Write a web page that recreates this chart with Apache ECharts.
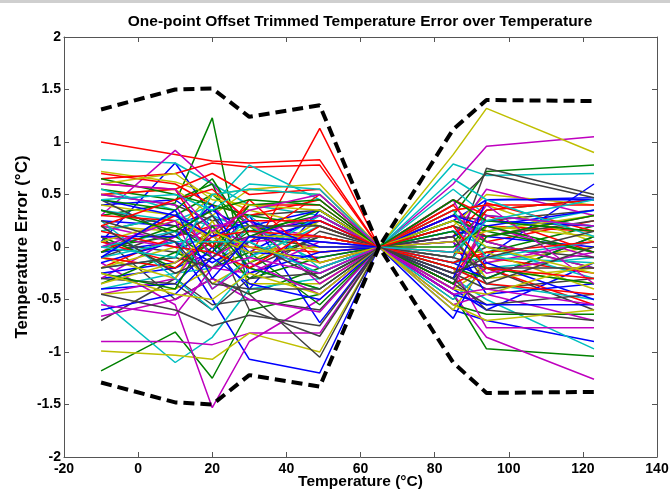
<!DOCTYPE html>
<html>
<head>
<meta charset="utf-8">
<script src="https://cdn.jsdelivr.net/npm/echarts@6/dist/echarts.min.js"></script>
<style>
  html, body { margin: 0; padding: 0; background: #fff; }
  #trimChart { width: 670px; height: 492px; }
</style>
</head>
<body>
<div id="trimChart"></div>
<script>
// temperatures where each part was measured (trim point at 65 °C)
const temps = [-10, 10, 20, 30, 49, 65, 85, 94, 123]

// error of each part, grouped by MATLAB colour order: b g r c m y k
const errB1 = [0.05, 0.8, 0.3, -0.05, 0.3, 0, 0.25, 0.45, 0.47]
const errG1 = [0.3, 0.42, 1.23, -0.45, -0.2, 0, 0.3, 0.72, 0.78]
const errR1 = [1.0, 0.88, 0.82, 0.8, 0.83, 0, -0.3, 0.2, 0.15]
const errC1 = [0.83, 0.8, 0.6, 0.4, 0.3, 0, 0.79, 0.68, 0.7]
const errM1 = [0.3, 0.92, 0.6, 0.2, 0.1, 0, 0.6, 0.96, 1.05]
const errY1 = [0.72, 0.62, 0.5, 0.55, 0.5, 0, 0.88, 1.32, 0.9]
const errK1 = [0.5, 0.4, 0.25, 0.3, 0.35, 0, 0.4, 0.7, 0.47]

const errB2 = [-0.05, 0.05, -0.5, -1.07, -1.2, 0, -0.6, -0.7, -0.9]
const errG2 = [-1.18, -0.81, -1.25, -0.6, -0.45, 0, -0.45, -0.97, -1.04]
const errR2 = [0.65, 0.7, 0.8, 0.76, 0.78, 0, 0.3, 0.1, 0.3]
const errC2 = [-0.51, -1.1, -0.86, -0.4, -0.3, 0, -0.3, -0.5, -0.97]
const errM2 = [-0.9, -0.9, -0.93, -0.82, -0.82, 0, -0.45, -0.86, -1.26]
const errY2 = [-0.99, -1.03, -1.07, -0.82, -1.0, 0, -0.4, -0.2, -0.35]
const errK2 = [0.1, -0.5, -0.3, -0.45, -1.05, 0, -0.5, -0.2, -0.6]

const errB3 = [0.4, 0.45, 0.2, 0.2, 0.35, 0, -0.68, -0.09, 0.6]
const errG3 = [0.55, 0.45, 0.6, -0.15, 0.1, 0, -0.55, -0.64, -0.64]
const errR3 = [-0.2, 0.1, 0.2, -0.1, 1.13, 0, 0.4, 0.05, 0.25]
const errC3 = [0.35, 0.25, 0.4, 0.78, 0.45, 0, -0.5, -0.2, -0.1]
const errM3 = [-0.15, -0.55, -1.53, -0.9, -0.5, 0, -0.2, -0.77, -0.77]
const errY3 = [0.5, 0.55, 0.3, 0.55, 0.6, 0, 0.2, 0.5, 0.4]
const errK3 = [-0.7, -0.3, -0.55, -0.5, -0.6, 0, -0.1, 0.75, 0.5]

const errB4 = [-0.3, -0.2, -0.05, 0.3, -0.72, 0, -0.4, -0.6, -0.15]
const errG4 = [0.15, 0.3, 0.5, 0.2, -0.3, 0, 0.2, 0.05, -0.2]
const errR4 = [0.7, 0.6, 0.4, 0.3, 0.45, 0, -0.35, -0.2, -0.55]
const errC4 = [-0.2, -0.1, 0.3, 0.15, 0.05, 0, 0.55, 0.3, 0.2]
const errM4 = [-0.66, -0.5, -0.3, -0.5, -0.62, 0, -0.55, -0.45, -0.7]
const errY4 = [0.2, 0.15, 0.5, 0.35, 0.2, 0, -0.6, -0.15, 0.0]
const errK4 = [0.05, -0.05, 0.15, -0.6, -0.85, 0, 0.3, 0.25, 0.35]

const errB5 = [0.25, 0.2, 0.35, 0.15, 0.25, 0, 0.15, 0.1, 0.0]
const errG5 = [0.0, 0.1, -0.1, 0.15, 0.3, 0, -0.3, -0.05, 0.2]
const errR5 = [0.5, 0.55, 0.0, 0.05, 0.5, 0, 0.45, 0.3, -0.05]
const errC5 = [-0.4, -0.25, -0.2, 0.2, -0.15, 0, -0.2, -0.35, -0.5]
const errM5 = [-0.3, 0.1, 0.4, 0.0, -0.2, 0, 0.1, 0.55, 0.3]
const errY5 = [0.4, 0.3, 0.05, 0.2, -0.05, 0, 0.1, -0.3, -0.2]
const errK5 = [-0.1, 0.15, 0.05, -0.3, 0.15, 0, -0.25, -0.4, -0.3]

const errB6 = [-0.4, -0.35, 0.0, -0.4, 0.35, 0, -0.15, -0.3, 0.1]
const errG6 = [0.65, 0.5, 0.4, 0.3, 0.2, 0, 0.05, 0.35, 0.45]
const errR6 = [0.05, -0.15, 0.05, 0.0, -0.05, 0, 0.1, 0.42, 0.15]
const errC6 = [0.15, 0.3, 0.2, -0.1, 0.3, 0, 0.25, 0.15, 0.35]
const errM6 = [-0.45, -0.3, 0.15, 0.05, 0.1, 0, -0.35, 0.2, -0.1]
const errY6 = [-0.2, 0.0, -0.35, -0.15, 0.25, 0, 0.35, 0.4, 0.05]
const errK6 = [0.35, 0.2, 0.0, 0.1, 0.0, 0, -0.15, 0.0, -0.1]

const errB7 = [-0.25, -0.15, 0.1, -0.05, -0.1, 0, 0.05, -0.45, -0.35]
const errG7 = [-0.35, -0.05, -0.2, -0.05, -0.55, 0, -0.2, -0.3, 0.1]
const errR7 = [-0.05, 0.3, 0.1, 0.4, 0.4, 0, -0.05, -0.1, -0.25]
const errC7 = [0.55, 0.35, -0.1, 0.3, -0.2, 0, 0.15, 0.0, -0.3]
const errM7 = [0.2, 0.05, -0.2, -0.25, 0.05, 0, 0.45, -0.15, 0.05]
const errY7 = [-0.1, -0.3, 0.25, -0.35, -0.35, 0, -0.25, 0.2, 0.1]
const errK7 = [0.45, 0.1, 0.3, -0.2, 0.1, 0, 0.2, 0.1, 0.25]

const errB8 = [-0.15, 0.05, -0.15, 0.05, 0.25, 0, 0.1, 0.25, 0.2]
const errG8 = [0.1, -0.2, 0.05, -0.3, -0.1, 0, 0.25, 0.15, -0.05]
const errR8 = [0.3, 0.25, 0.0, 0.45, -0.15, 0, -0.1, 0.35, 0.45]
const errC8 = [0.0, 0.15, -0.4, -0.1, 0.2, 0, -0.1, 0.3, 0.2]
const errM8 = [0.1, 0.0, 0.2, 0.25, -0.35, 0, 0.3, 0.05, -0.2]
const errY8 = [-0.45, -0.4, -0.2, 0.1, 0.1, 0, -0.05, -0.05, -0.4]
const errK8 = [-0.3, -0.35, -0.6, -0.3, -0.25, 0, -0.35, -0.55, -0.45]

const errB9 = [0.1, 0.1, 0.4, -0.25, -0.05, 0, -0.25, -0.15, -0.5]
const errG9 = [-0.05, 0.2, -0.05, 0.4, 0.45, 0, 0.15, -0.2, -0.35]
const errR9 = [-0.1, -0.2, 0.1, 0.15, 0.1, 0, -0.2, -0.35, -0.45]
const errC9 = [0.25, -0.3, -0.6, -0.2, -0.4, 0, -0.15, -0.1, 0.05]
const errM9 = [0.5, 0.4, -0.1, 0.1, 0.3, 0, 0.05, -0.25, -0.05]
const errY9 = [0.05, 0.25, 0.1, -0.05, 0.0, 0, 0.05, 0.15, 0.3]
const errK9 = [-0.2, -0.1, -0.2, 0.05, -0.3, 0, -0.1, -0.2, -0.2]

const errB10 = [0.45, 0.3, 0.1, 0.25, 0.0, 0, 0.3, 0.2, 0.35]
const errG10 = [-0.25, -0.4, 0.2, -0.2, -0.4, 0, 0.0, 0.2, -0.05]
const errR10 = [0.15, 0.0, -0.05, -0.2, 0.2, 0, -0.15, -0.05, 0.05]
const errC10 = [-0.1, 0.05, 0.05, 0.05, -0.25, 0, 0.35, -0.1, -0.15]
const errM10 = [0.0, 0.25, -0.4, -0.15, -0.45, 0, -0.05, 0.4, -0.35]
const errY10 = [-0.35, -0.15, 0.15, 0.0, -0.15, 0, -0.4, -0.45, -0.15]
const errK10 = [0.2, -0.25, -0.1, 0.2, 0.2, 0, 0.1, -0.35, 0.0]

const errB11 = [-0.6, -0.45, -0.1, -0.35, -0.5, 0, -0.3, 0.45, 0.45]
const errG11 = [0.45, 0.35, 0.65, 0.1, 0.35, 0, -0.35, 0.1, 0.3]
const errR11 = [0.6, 0.55, 0.7, 0.5, 0.55, 0, 0.35, 0.4, 0.4]
const errC11 = [0.0, -0.1, 0.5, 0.55, 0.5, 0, 0.65, 0.45, 0.1]
const errM11 = [-0.55, -0.65, -0.2, -0.1, -0.25, 0, -0.4, 0.3, 0.2]
const errY11 = [0.6, 0.7, 0.45, 0.4, 0.35, 0, 0.25, 0.0, -0.25]
const errK11 = [-0.45, -0.6, -0.75, -0.65, -0.75, 0, -0.3, -0.6, -0.7]

const errB12 = [-0.1, 0.35, -0.3, 0.1, 0.05, 0, -0.45, -0.55, -0.55]
const errG12 = [0.35, 0.15, 0.35, 0.45, 0.4, 0, 0.45, 0.25, 0.15]
const errR12 = [0.2, 0.45, 0.55, 0.25, 0.25, 0, 0.2, -0.2, -0.3]
const errC12 = [0.45, 0.5, 0.35, 0.6, 0.55, 0, -0.05, 0.25, 0.45]
const errM12 = [0.6, 0.55, 0.15, 0.35, 0.5, 0, -0.45, -0.4, -0.55]
const errY12 = [-0.25, -0.45, -0.5, -0.25, -0.45, 0, -0.55, -0.7, -0.6]
const errK12 = [0.25, 0.05, -0.35, -0.4, -0.4, 0, -0.25, -0.1, 0.15]

// envelope drawn as thick dashed lines
const upperBound = [1.31, 1.5, 1.51, 1.24, 1.35, 0, 1.12, 1.4, 1.39]
const lowerBound = [-1.29, -1.48, -1.5, -1.22, -1.33, 0, -1.1, -1.39, -1.38]

const xTicks = [-20, 0, 20, 40, 60, 80, 100, 120, 140]
const yTicks = [-2, -1.5, -1, -0.5, 0, 0.5, 1, 1.5, 2]

const parts = [
  errB1, errG1, errR1, errC1, errM1, errY1, errK1,
  errB2, errG2, errR2, errC2, errM2, errY2, errK2,
  errB3, errG3, errR3, errC3, errM3, errY3, errK3,
  errB4, errG4, errR4, errC4, errM4, errY4, errK4,
  errB5, errG5, errR5, errC5, errM5, errY5, errK5,
  errB6, errG6, errR6, errC6, errM6, errY6, errK6,
  errB7, errG7, errR7, errC7, errM7, errY7, errK7,
  errB8, errG8, errR8, errC8, errM8, errY8, errK8,
  errB9, errG9, errR9, errC9, errM9, errY9, errK9,
  errB10, errG10, errR10, errC10, errM10, errY10, errK10,
  errB11, errG11, errR11, errC11, errM11, errY11, errK11,
  errB12, errG12, errR12, errC12, errM12, errY12, errK12
]

const matlabColors = ['#0000ff', '#008000', '#ff0000', '#00bfbf', '#bf00bf', '#bfbf00', '#404040']

const pairs = (vals) => temps.map((t, i) => [t, vals[i]])

const font = '"Liberation Sans", Arial, sans-serif'
const labelStyle = { color: '#000', fontFamily: font, fontWeight: 'bold', fontSize: 14 }
const axisLine = { show: true, onZero: false, lineStyle: { color: '#555', width: 1 } }
const tickIn = { show: true, inside: true, length: 5, lineStyle: { color: '#555' } }

const chart = echarts.init(document.getElementById('trimChart'))

const series = parts.map((vals, i) => ({
  type: 'line',
  data: pairs(vals),
  showSymbol: false,
  lineStyle: { width: 1.5, color: matlabColors[i % 7] },
  silent: true
}))

series.push({
  type: 'line', data: pairs(upperBound), showSymbol: false, silent: true, z: 5,
  lineStyle: { width: 4, color: '#000', type: [11, 6] }
})
series.push({
  type: 'line', data: pairs(lowerBound), showSymbol: false, silent: true, z: 5,
  lineStyle: { width: 4, color: '#000', type: [11, 6] }
})

chart.setOption({
  animation: false,
  backgroundColor: '#fff',
  title: {
    text: 'One-point Offset Trimmed Temperature Error over Temperature',
    left: 355, top: 9, textAlign: 'center',
    textStyle: { fontFamily: font, fontWeight: 'bold', fontSize: 15.5, color: '#000' }
  },
  graphic: [{
    type: 'rect', shape: { x: 0, y: 0, width: 670, height: 3 },
    style: { fill: '#cfcfcf' }
  }],
  grid: { left: 64, right: 13, top: 37, bottom: 35, outerBoundsMode: 'none', containLabel: false },
  xAxis: [{
    type: 'value', min: xTicks[0], max: xTicks[xTicks.length - 1], interval: 20,
    name: 'Temperature (°C)', nameLocation: 'middle', nameGap: 17, nameMoveOverlap: false,
    nameTextStyle: Object.assign({}, labelStyle, { fontSize: 15.5 }),
    axisLine: axisLine, axisTick: tickIn, splitLine: { show: false },
    axisLabel: Object.assign({ margin: 5 }, labelStyle)
  }, {
    type: 'value', position: 'top', min: xTicks[0], max: xTicks[xTicks.length - 1], interval: 20,
    axisLine: axisLine, axisTick: tickIn, splitLine: { show: false },
    axisLabel: { show: false }
  }],
  yAxis: [{
    type: 'value', min: yTicks[0], max: yTicks[yTicks.length - 1], interval: 0.5,
    name: 'Temperature Error (°C)', nameLocation: 'middle', nameGap: 33, nameMoveOverlap: false,
    nameTextStyle: Object.assign({}, labelStyle, { fontSize: 17 }),
    axisLine: axisLine, axisTick: tickIn, splitLine: { show: false },
    axisLabel: Object.assign({ margin: 3 }, labelStyle)
  }, {
    type: 'value', position: 'right', min: yTicks[0], max: yTicks[yTicks.length - 1], interval: 0.5,
    axisLine: axisLine, axisTick: tickIn, splitLine: { show: false },
    axisLabel: { show: false }
  }],
  series: series
})
</script>
</body>
</html>
